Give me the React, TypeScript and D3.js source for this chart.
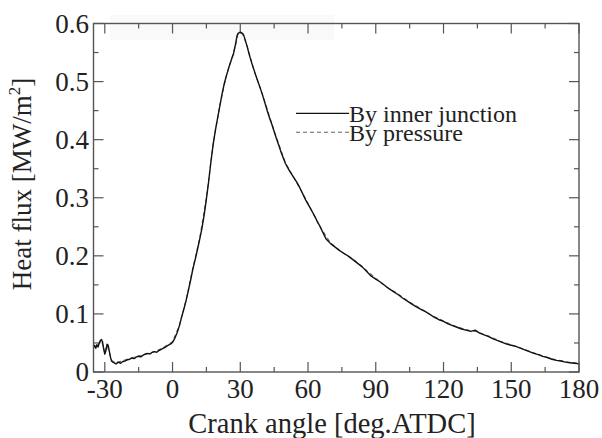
import React from "react";
import * as d3 from "d3";

// Crank angle [deg ATDC] and heat flux [MW/m2], "By inner junction"
const junctionAngle = [
  -35, -34.5, -34, -33.5, -33, -32.5, -32, -31.5, -31, -30.5, -30, -29.5, -29, -28.5, -28, -27.5, -27, -26.5, -26, -25, -24,
  -23, -22, -21, -20, -19, -18, -17, -16, -15, -14, -13, -12, -11, -10, -9, -8, -7, -6, -5, -4, -3, -2, -1,
  0, 1, 2, 3, 4, 5, 6, 7, 8, 9, 10, 11, 12, 13, 14, 15, 16, 17, 18, 19, 20, 21, 22, 23, 24, 25, 26, 27, 28,
  28.5, 29, 30, 31, 31.5, 32, 33, 34, 35, 36, 37, 38, 39, 40, 41, 42, 43, 44, 45, 46, 47, 48, 49, 50, 51, 52,
  53, 54, 55, 56, 57, 58, 59, 60, 61, 62, 63, 64, 65, 66, 67, 68, 69, 70, 72, 74, 76, 78, 80, 82, 84, 86, 88,
  90, 92, 94, 96, 98, 100, 102, 104, 106, 108, 110, 112, 114, 116, 118, 120, 122, 124, 126, 128, 130, 132,
  134, 136, 138, 140, 142, 144, 146, 148, 150, 152, 154, 156, 158, 160, 162, 164, 166, 168, 170, 172, 174,
  176, 178, 180,
];
const junctionFlux = [
  0.042, 0.046, 0.041, 0.047, 0.043, 0.05, 0.054, 0.056, 0.052, 0.04, 0.031, 0.037, 0.048, 0.046, 0.036, 0.026, 0.019, 0.017, 0.016, 0.014, 0.017,
  0.015, 0.018, 0.019, 0.021, 0.022, 0.024, 0.023, 0.026, 0.027, 0.026, 0.029, 0.031, 0.032, 0.031, 0.034, 0.035, 0.034, 0.037, 0.039, 0.041, 0.043, 0.046, 0.048,
  0.051, 0.058, 0.067, 0.079, 0.094, 0.108, 0.123, 0.14, 0.158, 0.177, 0.193, 0.21, 0.228, 0.247, 0.27, 0.298, 0.328, 0.362, 0.392, 0.417, 0.438, 0.459, 0.48, 0.498, 0.512, 0.525, 0.537, 0.548, 0.566,
  0.578, 0.583, 0.585, 0.583, 0.58, 0.574, 0.561, 0.546, 0.533, 0.521, 0.509, 0.498, 0.487, 0.475, 0.462, 0.449, 0.437, 0.426, 0.414, 0.402, 0.391, 0.379, 0.369, 0.359, 0.352, 0.345,
  0.339, 0.333, 0.327, 0.32, 0.312, 0.304, 0.296, 0.289, 0.282, 0.275, 0.268, 0.26, 0.253, 0.245, 0.237, 0.229, 0.225, 0.221, 0.215, 0.209, 0.204, 0.199, 0.193, 0.187, 0.181, 0.173, 0.165,
  0.16, 0.155, 0.149, 0.143, 0.138, 0.133, 0.127, 0.122, 0.117, 0.112, 0.108, 0.104, 0.099, 0.094, 0.09, 0.087, 0.083, 0.08, 0.077, 0.074, 0.072, 0.07,
  0.072, 0.067, 0.064, 0.061, 0.057, 0.054, 0.051, 0.048, 0.046, 0.044, 0.041, 0.038, 0.035, 0.032, 0.03, 0.027, 0.025, 0.022, 0.02, 0.019, 0.017,
  0.016, 0.015, 0.014,
];

// "By pressure"
const pressureAngle = [
  -35, -33, -31.5, -30, -29, -27, -25, -20, -15, -10, -5, 0, 3, 6, 9, 12, 15, 18, 21, 24, 27, 29, 30, 31, 33,
  36, 40, 45, 50, 55, 60, 65, 70, 75, 80, 85, 90, 95, 100, 105, 110, 115, 120, 125, 130, 135, 140, 145, 150,
  155, 160, 165, 170, 175, 180,
];
const pressureFlux = [
  0.044, 0.044, 0.055, 0.033, 0.047, 0.02, 0.016, 0.022, 0.028, 0.032, 0.04, 0.052, 0.08, 0.124, 0.179, 0.23, 0.3, 0.393, 0.46, 0.513, 0.549, 0.582, 0.584, 0.582, 0.562,
  0.52, 0.476, 0.415, 0.36, 0.326, 0.29, 0.252, 0.222, 0.206, 0.194, 0.178, 0.161, 0.146, 0.134, 0.12, 0.109, 0.097, 0.088, 0.079, 0.073, 0.069, 0.062, 0.053, 0.047,
  0.04, 0.033, 0.026, 0.021, 0.017, 0.015,
];

const xMajor = [-30, 0, 30, 60, 90, 120, 150, 180];
const xMinor = [-15, 15, 45, 75, 105, 135, 165];
const yMajor = [0, 0.1, 0.2, 0.3, 0.4, 0.5, 0.6];
const yMinor = [0.05, 0.15, 0.25, 0.35, 0.45, 0.55];
const yTickLabels = ["0", "0.1", "0.2", "0.3", "0.4", "0.5", "0.6"];
const legendLabels = ["By inner junction", "By pressure"];

const W = 602;
const H = 438;
const L = 93.5;
const R = 579;
const T = 23.5;
const B = 372;
const FONT = "Liberation Serif, DejaVu Serif, Times New Roman, serif";
const AX = "#555";
const TXT = "#222";

export default function App() {
  const x = d3.scaleLinear().domain([-35, 180]).range([L, R]);
  const y = d3.scaleLinear().domain([0, 0.6]).range([B, T]);
  const line = d3
    .line<[number, number]>()
    .x((d) => x(d[0]))
    .y((d) => y(d[1]));
  const jData = junctionAngle.map((a, i) => [a, junctionFlux[i]] as [number, number]);
  const pData = pressureAngle.map((a, i) => [a, pressureFlux[i]] as [number, number]);

  const major = 10;
  const minor = 5;
  const ts = { fontFamily: FONT };

  return (
    <svg
      width={W}
      height={H}
      style={{ position: "absolute", left: 0, top: 0, background: "#fff", fontFamily: FONT }}
    >
      <rect x={0} y={0} width={W} height={H} fill="#fff" />
      {/* faint scan band near the top axis */}
      <rect x={110} y={15} width={224} height={25} fill="#f9f9f9" />

      {/* ticks */}
      <g stroke={AX} strokeWidth={1.2}>
        {xMajor.map((v) => (
          <g key={"xM" + v}>
            <line x1={x(v)} x2={x(v)} y1={B} y2={B - major} />
            <line x1={x(v)} x2={x(v)} y1={T} y2={T + major} />
          </g>
        ))}
        {xMinor.map((v) => (
          <g key={"xm" + v}>
            <line x1={x(v)} x2={x(v)} y1={B} y2={B - minor} />
            <line x1={x(v)} x2={x(v)} y1={T} y2={T + minor} />
          </g>
        ))}
        {yMajor.map((v) => (
          <g key={"yM" + v}>
            <line x1={L} x2={L + major} y1={y(v)} y2={y(v)} />
            <line x1={R} x2={R - major} y1={y(v)} y2={y(v)} />
          </g>
        ))}
        {yMinor.map((v) => (
          <g key={"ym" + v}>
            <line x1={L} x2={L + minor} y1={y(v)} y2={y(v)} />
            <line x1={R} x2={R - minor} y1={y(v)} y2={y(v)} />
          </g>
        ))}
      </g>

      {/* curves */}
      <path d={line(pData) || ""} fill="none" stroke="#666" strokeWidth={1.1} strokeDasharray="4,3" />
      <path d={line(jData) || ""} fill="none" stroke="#111" strokeWidth={1.4} strokeLinejoin="round" />

      {/* frame */}
      <rect x={L} y={T} width={R - L} height={B - T} fill="none" stroke={AX} strokeWidth={1.4} />

      {/* tick labels */}
      <g fill={TXT} fontSize={27} style={ts}>
        {xMajor.map((v) => (
          <text key={"xl" + v} x={x(v)} y={398} textAnchor="middle" style={ts}>
            {v < 0 ? "-" + Math.abs(v) : String(v)}
          </text>
        ))}
        {yMajor.map((v, i) => (
          <text key={"yl" + v} x={89} y={y(v) + 9} textAnchor="end" style={ts}>
            {yTickLabels[i]}
          </text>
        ))}
      </g>

      {/* axis titles */}
      <text x={332} y={433} textAnchor="middle" fontSize={28.5} fill={TXT} style={ts}>
        Crank angle [deg.ATDC]
      </text>
      <text
        transform={`translate(31,${184}) rotate(-90)`}
        textAnchor="middle"
        fontSize={27}
        fill={TXT}
        style={ts}
      >
        Heat flux [MW/m<tspan dy={-11} fontSize={17}>2</tspan>
        <tspan dy={11}>]</tspan>
      </text>

      {/* legend */}
      <g>
        <line x1={296} x2={349} y1={113.3} y2={113.3} stroke="#111" strokeWidth={1.2} />
        <line x1={296} x2={349} y1={132.3} y2={132.3} stroke="#666" strokeWidth={1.1} strokeDasharray="4,3" />
        <text x={349} y={121.5} fontSize={24} fill={TXT} style={ts}>
          <tspan x={349} y={121.5}>{legendLabels[0]}</tspan>
          <tspan x={349} y={140.7}>{legendLabels[1]}</tspan>
        </text>
      </g>
    </svg>
  );
}
